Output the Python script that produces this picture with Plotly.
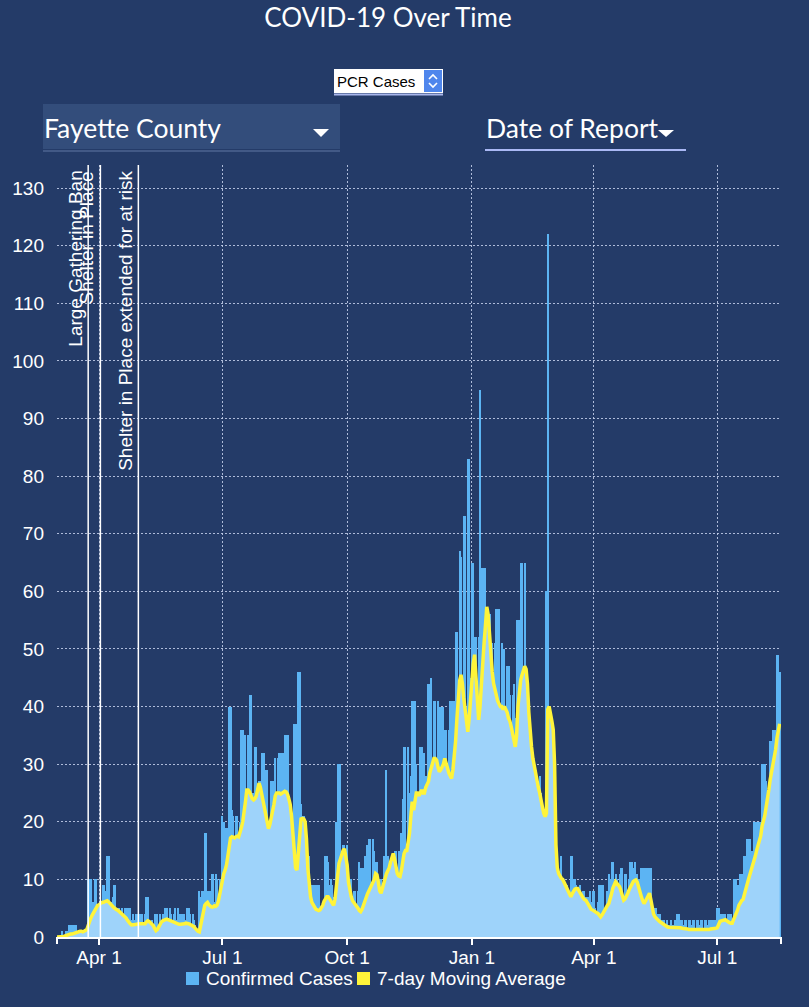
import pandas as pd
import plotly.graph_objects as go

# ---------------- data (daily confirmed cases & 7-day moving average) ----------------
cases_2020_03 = [0,0,0,0,1,0,0,1,1,2, 2,1,2,2,2,1,1,1,0,1, 1,1,1,10,10,10,6,6,10,10,5]
ma_2020_03 = [0,0,0,0,0.1,0.1,0.2,0.3,0.3,0.4, 0.5,0.5,0.6,0.7,0.8,0.9,1.0,1.0,1.0,0.9, 1.0,1.1,1.3,2.0,2.8,3.3,3.8,4.3,4.8,5.2,5.5]
cases_2020_04 = [5,5,6,9,9,8,14,14,6,6, 7,9,9,5,4,5,4,5,3,5, 4,5,2,5,3,4,3,4,4,4]
ma_2020_04 = [5.6,5.8,6.0,6.0,6.1,6.2,6.3,6.1,5.8,5.5, 5.3,5.1,4.9,4.8,4.6,4.4,4.2,3.9,3.7,3.5, 3.3,2.9,2.5,2.3,2.1,2.1,2.2,2.1,2.2,2.3]
cases_2020_05 = [4,2,4,1,4,7,7,3,1,3, 0,4,1,4,2,4,3,4,2,5, 5,3,5,4,2,4,5,3,5,2, 4]
ma_2020_05 = [2.3,2.3,2.2,2.2,2.3,2.6,2.8,2.7,2.5,2.3, 2.0,1.5,1.1,1.3,1.8,2.3,2.6,2.8,3.0,3.0, 3.1,3.0,2.9,2.8,2.6,2.5,2.4,2.3,2.3,2.2, 2.2]
cases_2020_06 = [4,2,4,3,5,5,4,2,4,3, 2,1,1,8,7,8,8,18,18,8, 3,8,11,11,6,11,10,4,10,10]
ma_2020_06 = [2.2,2.2,2.3,2.4,2.4,2.3,2.2,2.1,2.0,1.8, 1.5,1.2,1.0,0.9,2.0,3.5,4.8,5.5,5.8,6.0, 5.6,5.3,5.2,5.2,5.4,5.3,5.5,6.2,7.5,9.0]
cases_2020_07 = [21,20,12,19,19,40,40,22,21,15, 21,21,18,20,36,36,35,35,21,35, 42,42,25,25,33,33,20,27,27,32, 32]
ma_2020_07 = [10.0,11.0,11.6,12.5,14.0,16.0,17.2,17.4,17.3,17.2, 17.4,17.5,17.4,18.0,19.0,20.0,21.5,23.5,25.5,25.5, 25.2,24.5,24.0,23.8,24.0,24.5,25.5,26.7,26.0,24.8, 23.5]
cases_2020_08 = [32,29,29,19,19,27,27,27,31,22, 31,32,32,21,32,35,35,35,11,11, 11,8,37,37,14,46,46,23,21,21, 20]
ma_2020_08 = [22,20.5,19.5,18.8,19.5,20.5,21.4,23,24.5,25, 25,25,24.8,25,25.2,25.3,25.2,24.8,24,23, 21,18,15,12,11.6,15,19,20.5,20.6,20.5, 20]
cases_2020_09 = [14,14,14,9,9,9,9,8,9,9, 5,5,5,5,14,14,13,9,10,9, 7,7,20,30,30,30,12,16,16,15]
ma_2020_09 = [17,12,8.5,7,6,5.5,5,4.8,4.7,4.6, 4.7,5.0,5.5,6.2,6.8,7.0,7.0,6.6,6.2,5.8, 5.5,6.5,8.5,11,12.8,13.5,14.5,15,15.3,14]
cases_2020_10 = [16,8,10,10,6,8,8,3,8,13, 12,4,12,14,6,16,17,17,8,17, 15,13,13,6,10,10,4,14,14,29, 14]
ma_2020_10 = [12.5,9.5,8.0,7.0,6.3,6.0,5.8,5.5,5.0,4.6, 4.4,4.8,5.5,6.5,7.2,7.5,8.0,8.5,8.8,9.3, 10.0,11.0,10.8,9.5,8.0,7.6,8.5,9.5,10.5,11.0, 11.5]
cases_2020_11 = [12,10,12,8,15,15,9,15,6,18, 24,33,33,15,33,25,28,41,41,41, 30,25,14,33,33,18,32,28,20,44]
ma_2020_11 = [12,13,14,14.5,13.5,12,11,10.6,10.5,11.5, 13,14.5,15,15,16.5,18,21,23.5,22,24, 25,25,24.5,25,25.5,25,25,26,26.5,27]
cases_2020_12 = [44,45,20,41,41,25,41,40,40,22, 40,36,36,18,36,41,41,25,41,53, 53,30,67,66,30,73,73,40,83,83, 45]
ma_2020_12 = [28.5,29.5,30.4,31,31,30.7,29.5,28.7,29,29.5, 30,31,30,29,28.5,28,27.5,29,31,34, 38,42,44.5,45.5,44,41.5,39,37,35.6,38, 42]
cases_2021_01 = [65,65,52,52,30,52,95,64,64,40, 64,57,57,56,51,51,30,51,57,57, 57,35,51,50,50,30,47,47,42,25, 42]
ma_2021_01 = [45,47.5,49,45,40,37.7,40,44.6,48,51, 54,57.3,56,52,49,46,44,42.9,41.7,41, 40.5,40,40,39.5,40,39.5,39,38,37.5,36.5, 35]
cases_2021_02 = [44,38,55,55,55,65,65,40,65,43, 43,30,30,20,29,30,29,27,20,28, 25,15,22,20,60,122,40,37]
ma_2021_02 = [34.2,33,35,40,43,44.6,45.5,46.5,47,46.5, 44,39,35.5,33,31,29.6,28.6,27,26,25, 23.5,22.6,21.5,20.9,21.5,39.5,40,38.3]
cases_2021_03 = [36,28,11,10,12,10,8,14,10,9, 8,9,6,8,14,14,10,10,9,8, 8,9,7,8,8,7,5,7,8,6, 8]
ma_2021_03 = [37.5,36,30,16,12,11,10.5,10.2,10,9.5, 8.8,8.2,8,7.5,7,7.5,8,8.3,8.4,8.4, 8,7.5,7,6.8,6.5,6.4,6,5.5,5,4.8, 4.7]
cases_2021_04 = [8,5,4,6,9,9,8,9,5,4, 8,11,10,13,13,8,11,10,6,11, 12,12,4,11,11,5,10,13,13,12]
ma_2021_04 = [4.5,4.3,4.2,4.1,3.8,3.5,3.8,4.3,4.7,5.2, 5.5,5.8,6.5,7.5,8.5,9.2,9.6,9.3,9,8.7, 8,7,6.4,6.6,7,7.6,8.2,8.7,9.2,9.6]
cases_2021_05 = [13,11,11,10,8,12,12,6,12,12, 4,12,12,6,5,5,5,4,4,4, 3,3,3,2,3,2,2,3,2,1, 3]
ma_2021_05 = [9.8,9.9,9.5,8.5,7.6,7,6.3,5.8,6.2,6.8, 7.3,7.6,6.5,4.7,4,3.5,3.2,3,2.8,2.6, 2.4,2.2,2,1.8,1.8,1.7,1.7,1.6,1.6,1.7, 1.6]
cases_2021_06 = [4,4,4,3,3,2,3,3,1,3, 3,2,3,3,1,3,3,2,3,3, 1,3,3,2,3,3,1,3,3,2]
ma_2021_06 = [1.6,1.6,1.7,1.6,1.5,1.5,1.5,1.4,1.4,1.3, 1.3,1.3,1.3,1.2,1.3,1.3,1.3,1.3,1.2,1.3, 1.3,1.2,1.3,1.3,1.3,1.4,1.4,1.5,1.5,1.5]
cases_2021_07 = [5,5,4,4,4,4,4,2,4,4, 4,1,10,10,10,9,9,11,11,11, 14,14,17,17,17,15,15,20,20,20, 20]
ma_2021_07 = [1.6,2.2,2.7,2.8,2.9,3,3,2.8,2.6,2.5, 2.4,2.4,3,3.5,4.2,4.7,5.5,6,6.3,6.5, 7.5,8.5,9.3,10,10.8,11.5,12.2,13,14,15, 15.7]
cases_2021_08 = [20,20,30,30,30,27,25,25,34,34, 36,36,36,49,49,46]
ma_2021_08 = [16.5,17.5,19.2,20,21,22.5,23.8,25.5,27.3,28.5, 29.5,30.7,32.5,34.5,36,37]

months = [
    ("2020-03-01", cases_2020_03, ma_2020_03), ("2020-04-01", cases_2020_04, ma_2020_04),
    ("2020-05-01", cases_2020_05, ma_2020_05), ("2020-06-01", cases_2020_06, ma_2020_06),
    ("2020-07-01", cases_2020_07, ma_2020_07), ("2020-08-01", cases_2020_08, ma_2020_08),
    ("2020-09-01", cases_2020_09, ma_2020_09), ("2020-10-01", cases_2020_10, ma_2020_10),
    ("2020-11-01", cases_2020_11, ma_2020_11), ("2020-12-01", cases_2020_12, ma_2020_12),
    ("2021-01-01", cases_2021_01, ma_2021_01), ("2021-02-01", cases_2021_02, ma_2021_02),
    ("2021-03-01", cases_2021_03, ma_2021_03), ("2021-04-01", cases_2021_04, ma_2021_04),
    ("2021-05-01", cases_2021_05, ma_2021_05), ("2021-06-01", cases_2021_06, ma_2021_06),
    ("2021-07-01", cases_2021_07, ma_2021_07), ("2021-08-01", cases_2021_08, ma_2021_08),
]

dates, cases, ma = [], [], []
for start, c, m in months:
    n = min(len(c), len(m))
    dr = pd.date_range(start, periods=n, freq="D")
    dates += list(dr)
    cases += c[:n]
    ma += m[:n]

events = [("2020-03-24", "Large Gathering Ban"),
          ("2020-04-02", "Shelter in Place"),
          ("2020-04-30", "Shelter in Place extended for at risk")]

tick_dates = ["2020-04-01", "2020-07-01", "2020-10-01", "2021-01-01", "2021-04-01", "2021-07-01"]
tick_text = ["Apr 1", "Jul 1", "Oct 1", "Jan 1", "Apr 1", "Jul 1"]

series_names = ["Confirmed Cases", "7-day Moving Average"]

# ---------------- styling ----------------
BG = "#243b68"
BAR = "#5cb4f3"
FILL = "rgb(158,211,250)"
YEL = "#fff43a"
GRID = "rgba(200,212,238,0.85)"
AX_FONT = "Arial, Liberation Sans, sans-serif"
HEAD_FONT = "Lato, Noto Sans, sans-serif"
DAY_MS = 86400000

W, H = 809, 1007
L, R, T, B = 57, 781, 165, 937


def px(x):
    return (x - L) / (R - L)


def py(y):
    return (B - y) / (B - T)


fig = go.Figure()
fig.add_trace(go.Bar(x=dates, y=cases, name=series_names[0], width=DAY_MS * 1.5,
                     marker=dict(color=BAR, line=dict(width=0)),
                     hoverinfo="x+y", showlegend=False))
fig.add_trace(go.Scatter(x=dates, y=ma, mode="lines", fill="tozeroy", fillcolor=FILL,
                         line=dict(color=YEL, width=3.5), name=series_names[1],
                         showlegend=False))

shapes = []
annotations = []
for d, label in events:
    shapes.append(dict(type="line", xref="x", yref="paper", x0=d, x1=d, y0=0, y1=1,
                       line=dict(color="white", width=1.5)))
    annotations.append(dict(x=d, y=1, xref="x", yref="paper", text=label, textangle=-90,
                            xanchor="right", yanchor="top", showarrow=False, xshift=-1, yshift=-4,
                            font=dict(family=AX_FONT, size=19, color="white")))

# edge ticks of the x axis
for xe in (0, 1):
    shapes.append(dict(type="line", xref="paper", yref="paper", x0=xe, x1=xe, y0=0, y1=py(944),
                       line=dict(color="white", width=2)))

# legend (drawn manually to match the compact spacing)
legend_items = [(186, BAR, series_names[0]), (357, YEL, series_names[1])]
for lx, col, name in legend_items:
    shapes.append(dict(type="rect", xref="paper", yref="paper", x0=px(lx), x1=px(lx + 13),
                       y0=py(985), y1=py(972), fillcolor=col, line=dict(width=0)))
    annotations.append(dict(x=px(lx + 18), y=py(978), xref="paper", yref="paper", text=name,
                            xanchor="left", yanchor="middle", showarrow=False,
                            font=dict(family=AX_FONT, size=19, color="white")))

# PCR Cases select box
shapes.append(dict(type="rect", xref="paper", yref="paper", x0=px(334), x1=px(443), y0=py(93), y1=py(69),
                   fillcolor="white", line=dict(width=0), layer="above"))
shapes.append(dict(type="line", xref="paper", yref="paper", x0=px(334), x1=px(443), y0=py(94.5), y1=py(94.5),
                   line=dict(color="#a9b7ec", width=2)))
shapes.append(dict(type="rect", xref="paper", yref="paper", x0=px(424), x1=px(442), y0=py(92), y1=py(70),
                   fillcolor="#4f86ec", line=dict(width=0)))
shapes.append(dict(type="path", xref="paper", yref="paper",
                   path=f"M {px(429)},{py(79)} L {px(433)},{py(75)} L {px(437)},{py(79)}",
                   line=dict(color="white", width=1.6)))
shapes.append(dict(type="path", xref="paper", yref="paper",
                   path=f"M {px(429)},{py(83)} L {px(433)},{py(87)} L {px(437)},{py(83)}",
                   line=dict(color="white", width=1.6)))
annotations.append(dict(x=px(335), y=py(81), xref="paper", yref="paper", text="PCR Cases",
                        xanchor="left", yanchor="middle", showarrow=False,
                        font=dict(family=AX_FONT, size=15, color="black")))

# Fayette County dropdown
shapes.append(dict(type="rect", xref="paper", yref="paper", x0=px(43), x1=px(340), y0=py(149), y1=py(104),
                   fillcolor="#334d7b", line=dict(width=0)))
shapes.append(dict(type="line", xref="paper", yref="paper", x0=px(43), x1=px(340), y0=py(151), y1=py(151),
                   line=dict(color="#4c6490", width=1.5)))
shapes.append(dict(type="path", xref="paper", yref="paper",
                   path=f"M {px(313)},{py(129)} L {px(329)},{py(129)} L {px(321)},{py(137)} Z",
                   fillcolor="white", line=dict(width=0)))
annotations.append(dict(x=px(42), y=py(128), xref="paper", yref="paper", text="Fayette County",
                        xanchor="left", yanchor="middle", showarrow=False,
                        font=dict(family=HEAD_FONT, size=26.5, color="white")))

# Date of Report dropdown
shapes.append(dict(type="line", xref="paper", yref="paper", x0=px(485), x1=px(686), y0=py(150), y1=py(150),
                   line=dict(color="#aab8f5", width=2)))
shapes.append(dict(type="path", xref="paper", yref="paper",
                   path=f"M {px(658)},{py(130)} L {px(674)},{py(130)} L {px(666)},{py(137)} Z",
                   fillcolor="white", line=dict(width=0)))
annotations.append(dict(x=px(484), y=py(128), xref="paper", yref="paper", text="Date of Report",
                        xanchor="left", yanchor="middle", showarrow=False,
                        font=dict(family=HEAD_FONT, size=26.5, color="white")))

fig.update_layout(
    width=W, height=H,
    paper_bgcolor=BG, plot_bgcolor=BG,
    margin=dict(l=L, r=W - R, t=T, b=H - B, autoexpand=False),
    title=dict(text="COVID-19 Over Time", x=388 / W, xref="container", xanchor="center",
               y=1 - 18 / H, yref="container", yanchor="middle",
               font=dict(family=HEAD_FONT, size=26, color="white")),
    bargap=0,
    barmode="overlay",
    showlegend=False,
    shapes=shapes,
    annotations=annotations,
    xaxis=dict(type="date", range=["2020-03-01", "2021-08-17"],
               tickvals=tick_dates, ticktext=tick_text,
               showgrid=True, gridcolor=GRID, griddash="1.5px,2.5px", gridwidth=1,
               showline=True, linecolor="white", linewidth=2,
               ticks="outside", tickcolor="white", ticklen=6, tickwidth=2,
               ticklabelstandoff=-4,
               tickfont=dict(family=AX_FONT, size=19, color="white"),
               zeroline=False, fixedrange=True),
    yaxis=dict(range=[0, 134], dtick=10, tick0=0,
               showgrid=True, gridcolor=GRID, griddash="1.5px,2.5px", gridwidth=1,
               showline=False, zeroline=False, ticks="", ticklabelstandoff=12,
               tickfont=dict(family=AX_FONT, size=19, color="white"), fixedrange=True),
)

fig.write_html("out.html", config={"displayModeBar": False},
               post_script="document.body.style.margin='0px';document.body.style.overflow='hidden';")
